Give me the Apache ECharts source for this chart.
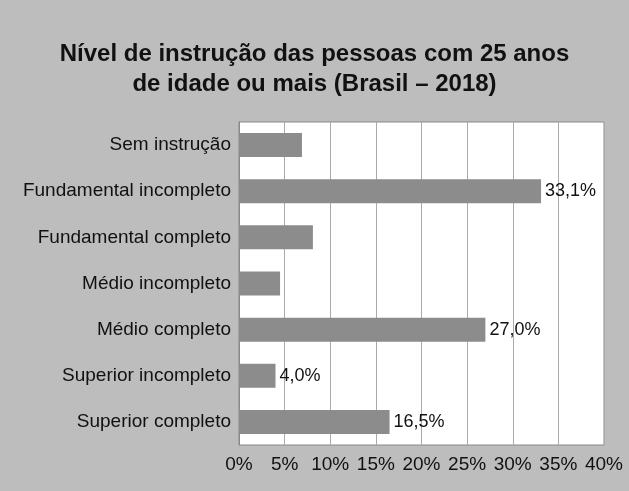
<!DOCTYPE html>
<html><head><meta charset="utf-8">
<script src="https://cdn.jsdelivr.net/npm/echarts@6/dist/echarts.min.js"></script>
<style>html,body{margin:0;padding:0;background:#bdbdbd}#c{width:629px;height:491px}</style>
</head><body><div id="c"></div>
<script>
const categories=["Sem instrução","Fundamental incompleto","Fundamental completo","Médio incompleto","Médio completo","Superior incompleto","Superior completo"];
const values=[6.9,33.1,8.1,4.5,27.0,4.0,16.5];
const shownLabels=[false,true,false,false,true,true,true];
const xTicks=[0,5,10,15,20,25,30,35,40];
const chart=echarts.init(document.getElementById('c'));
chart.setOption({
  backgroundColor:'#bdbdbd',
  title:{text:'Nível de instrução das pessoas com 25 anos\nde idade ou mais (Brasil – 2018)',left:'center',top:34,
    textStyle:{fontFamily:'Liberation Sans',fontSize:24,fontWeight:'bold',color:'#111',lineHeight:30}},
  grid:{left:239,right:25,top:122,bottom:46,show:true,backgroundColor:'#fff',borderColor:'#888',borderWidth:1},
  xAxis:{type:'value',min:0,max:40,interval:5,
    axisLabel:{formatter:v=>v+'%',fontFamily:'Liberation Sans',fontSize:19,color:'#111',margin:10},
    splitLine:{lineStyle:{color:'#aaa'}},axisLine:{show:false},axisTick:{show:false}},
  yAxis:{type:'category',data:categories,inverse:true,
    axisLabel:{fontFamily:'Liberation Sans',fontSize:19,color:'#111',margin:8},
    axisLine:{lineStyle:{color:'#888'}},axisTick:{show:false}},
  series:[{type:'bar',barWidth:24,
    data:values.map((v,i)=>({value:v,label:{show:shownLabels[i]}})),
    itemStyle:{color:'#8c8c8c'},
    label:{position:'right',distance:4,formatter:p=>p.value.toFixed(1).replace('.',',')+'%',
      fontFamily:'Liberation Sans',fontSize:18,color:'#111'}}]
});
</script></body></html>
